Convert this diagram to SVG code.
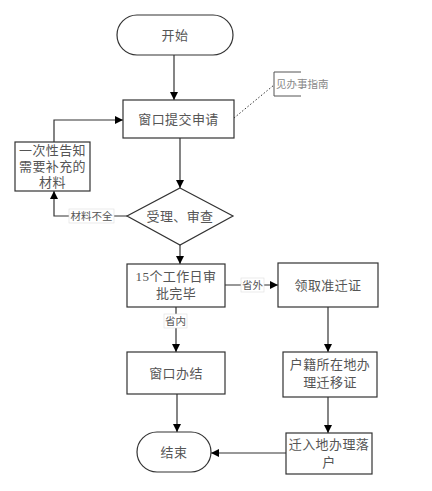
<svg xmlns="http://www.w3.org/2000/svg" width="432" height="491" viewBox="0 0 432 491">
<defs>
<marker id="ah" viewBox="0 0 10 10" refX="10" refY="5" markerWidth="8" markerHeight="8" markerUnits="userSpaceOnUse" orient="auto">
<path d="M0,0 L10,5 L0,10 z" fill="#000"/>
</marker>
</defs>
<style>
.box{fill:#fff;stroke:#333;stroke-width:1.2}
.t{font-family:"Liberation Serif","Noto Sans CJK SC",serif;font-size:13px;fill:#555;text-anchor:middle;dominant-baseline:central;letter-spacing:0.4px}
.lbl{font-family:"Liberation Serif","Noto Sans CJK SC",serif;font-size:10.5px;fill:#555;text-anchor:middle;dominant-baseline:central}
.ln{fill:none;stroke:#333;stroke-width:1.2}
.lb{fill:#fff;stroke:#ddd;stroke-width:0.6}
</style>
<rect width="432" height="491" fill="#fff"/>
<g id="connectors">
<path class="ln" d="M174,55 V100" marker-end="url(#ah)"/>
<path class="ln" d="M180,138 V188" marker-end="url(#ah)"/>
<path class="ln" d="M234,118 L274,85" stroke-dasharray="1.5,2" style="stroke-width:1"/>
<path class="ln" d="M54,142 V120 H123" marker-end="url(#ah)"/>
<path class="ln" d="M127,216 H54 V191" marker-end="url(#ah)"/>
<rect class="lb" x="69" y="209" width="45" height="14"/>
<text class="lbl" x="91.5" y="216">材料不全</text>
<path class="ln" d="M180,245 V264" marker-end="url(#ah)"/>
<path class="ln" d="M225,285 H278" marker-end="url(#ah)"/>
<rect class="lb" x="241" y="278" width="23" height="14"/>
<text class="lbl" x="252.5" y="285">省外</text>
<path class="ln" d="M176,307 V352" marker-end="url(#ah)"/>
<rect class="lb" x="164" y="314" width="23" height="14"/>
<text class="lbl" x="175.5" y="321">省内</text>
<path class="ln" d="M328,307 V352" marker-end="url(#ah)"/>
<path class="ln" d="M328,397 V433" marker-end="url(#ah)"/>
<path class="ln" d="M177,394 V432" marker-end="url(#ah)"/>
<path class="ln" d="M286,453 H211" marker-end="url(#ah)"/>
</g>
<g id="start">
<rect class="box" x="117" y="15" width="116" height="40" rx="20"/>
<text class="t" x="175" y="35">开始</text>
</g>
<g id="submit">
<rect class="box" x="123" y="100" width="111" height="38"/>
<text class="t" x="178.5" y="119">窗口提交申请</text>
</g>
<g id="note">
<path class="ln" d="M301,72 H274 V96 H301" style="stroke:#555;stroke-width:1"/>
<text class="lbl" x="276" y="84" style="text-anchor:start;fill:#888">见办事指南</text>
</g>
<g id="notify">
<rect class="box" x="15" y="142" width="75" height="49"/>
<text class="t" x="52.5" y="150">一次性告知</text>
<text class="t" x="52.5" y="166">需要补充的</text>
<text class="t" x="52.5" y="182">材料</text>
</g>
<g id="review">
<path class="box" d="M180,188 L233,216 L180,245 L127,216 Z"/>
<text class="t" x="180" y="216">受理、审查</text>
</g>
<g id="approve">
<rect class="box" x="127" y="264" width="98" height="43"/>
<text class="t" x="176" y="276">15个工作日审</text>
<text class="t" x="176" y="293">批完毕</text>
</g>
<g id="permit">
<rect class="box" x="278" y="263" width="100" height="44"/>
<text class="t" x="328" y="285">领取准迁证</text>
</g>
<g id="finish-window">
<rect class="box" x="127" y="352" width="98" height="42"/>
<text class="t" x="176" y="373">窗口办结</text>
</g>
<g id="household">
<rect class="box" x="283" y="352" width="94" height="45"/>
<text class="t" x="330" y="364">户籍所在地办</text>
<text class="t" x="330" y="382">理迁移证</text>
</g>
<g id="movein">
<rect class="box" x="286" y="433" width="86" height="41"/>
<text class="t" x="329" y="444">迁入地办理落</text>
<text class="t" x="329" y="462">户</text>
</g>
<g id="end">
<rect class="box" x="137" y="432" width="74" height="40" rx="20"/>
<text class="t" x="174" y="452">结束</text>
</g>
</svg>
